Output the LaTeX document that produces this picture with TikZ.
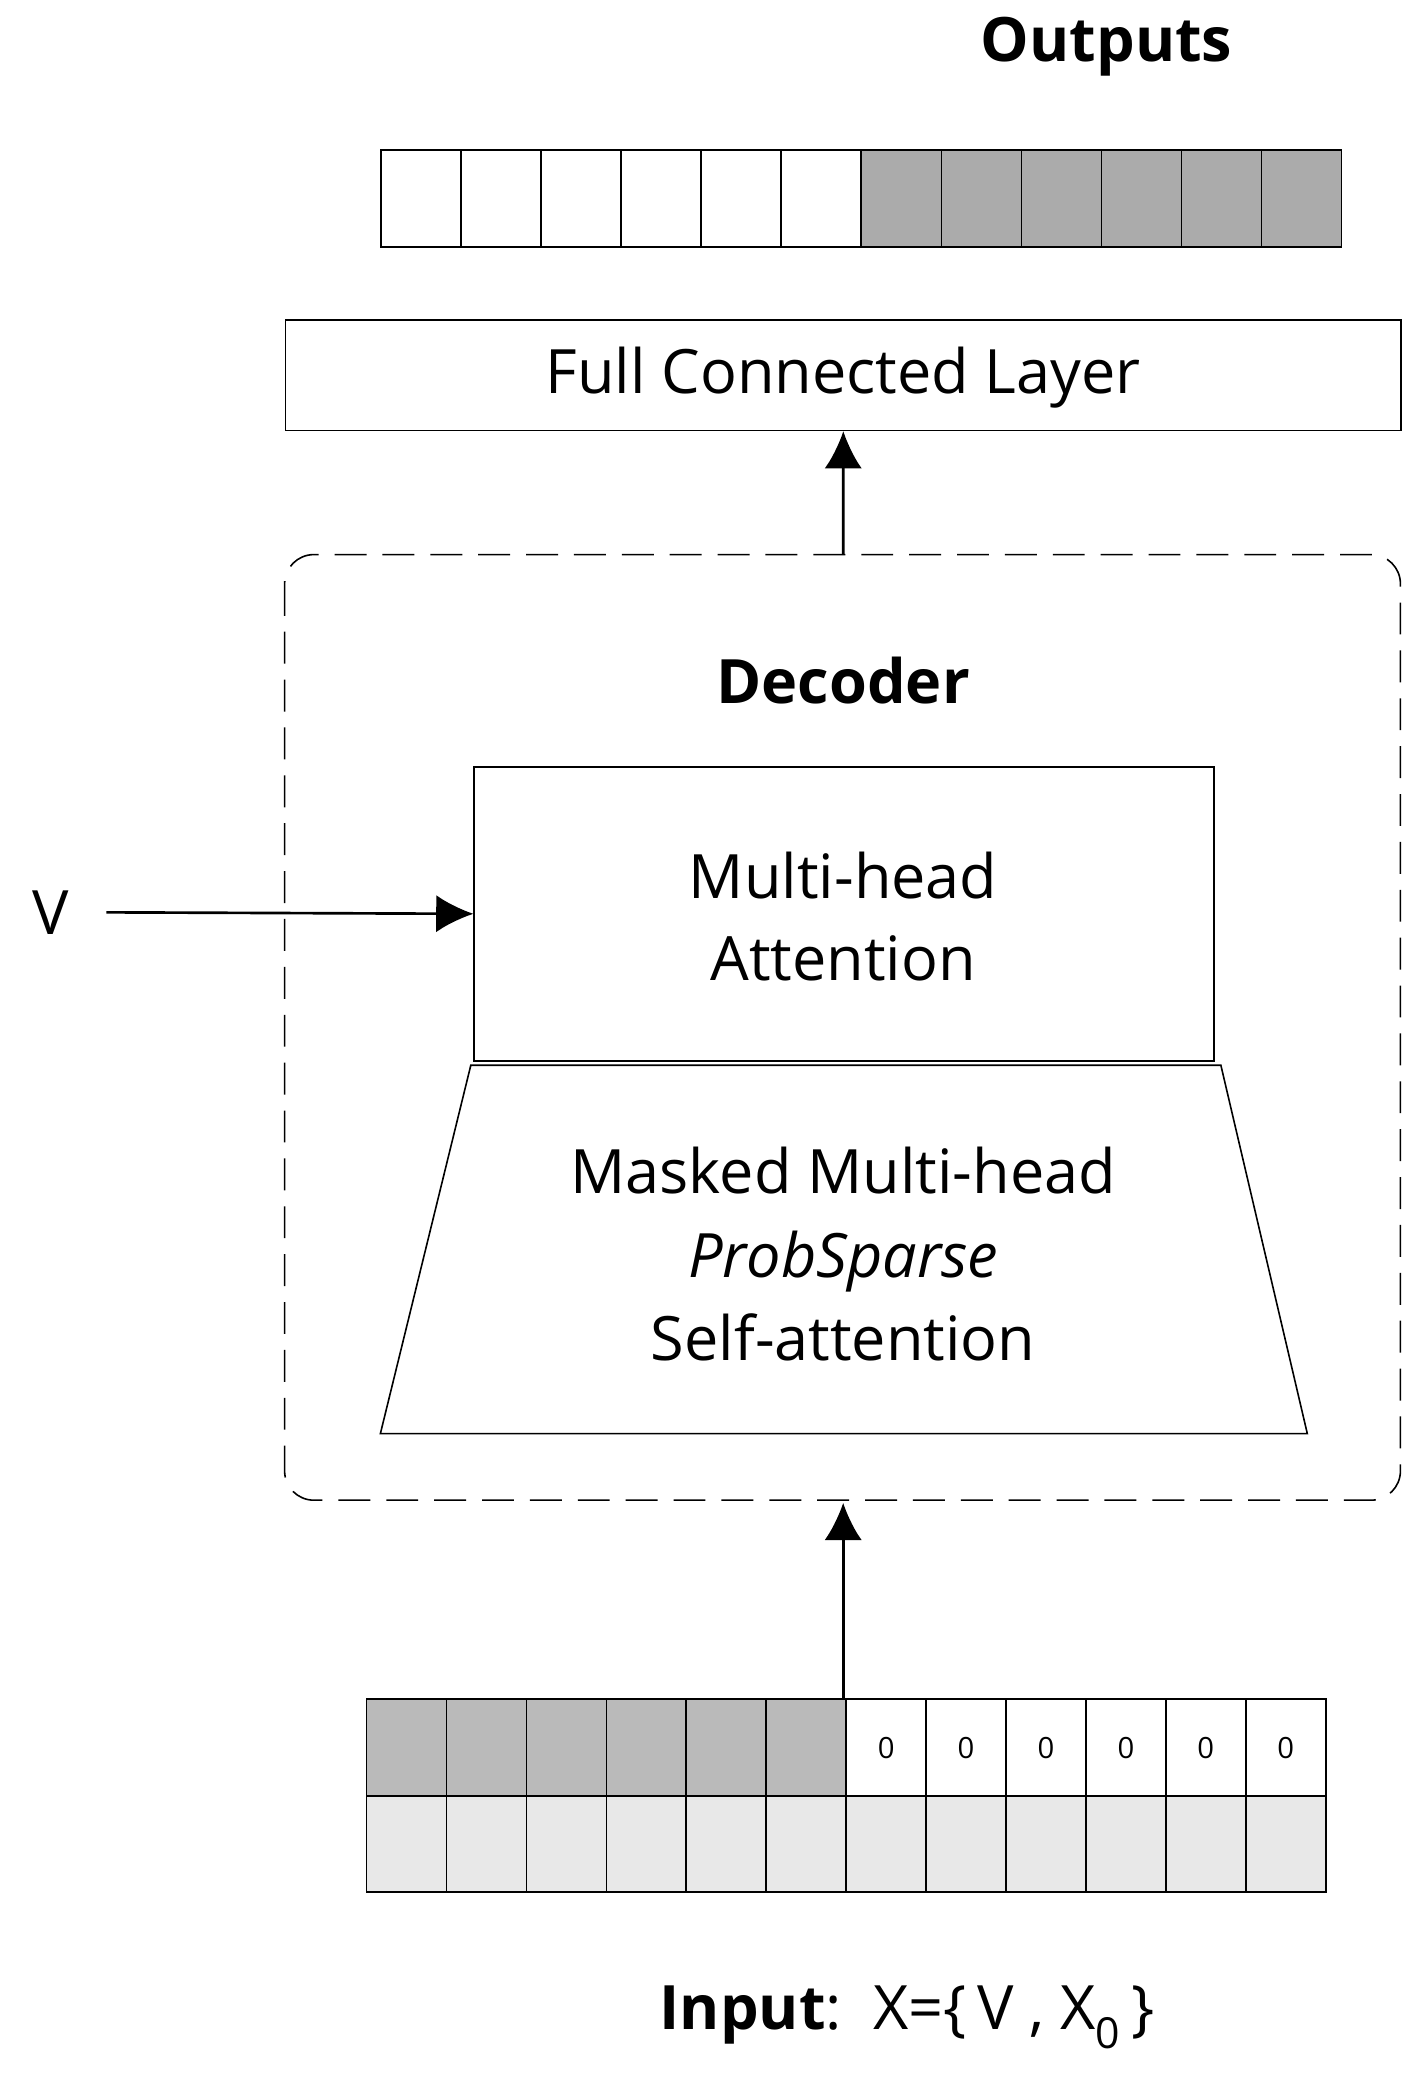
\documentclass[tikz,border=0pt]{standalone}
\usepackage{fontspec}
\setmainfont{Open Sans}
\usetikzlibrary{arrows.meta}
\begin{document}
\begin{tikzpicture}[x=1pt,y=-1pt,
  cell/.style={draw=black,line width=1.2pt,minimum width=60.2pt,minimum height=73pt,inner sep=0pt,anchor=north west},
  big/.style={font=\fontsize{46}{62}\selectfont},
  arr/.style={-{Latex[length=28pt,width=28pt]},line width=2pt}]
\useasboundingbox (0,0) rectangle (1062,1567);
\node[font=\fontsize{46}{50}\selectfont\bfseries] (out) at (832,35) {Outputs};
\foreach \i in {0,...,11}{
  \pgfmathsetmacro\xx{286+60.17*\i}
  \ifnum\i<6 \def\fc{white}\else\def\fc{black!33}\fi
  \node[cell,fill=\fc] (o\i) at (\xx,112) {};
}
\node[draw,line width=1.2pt,minimum width=839pt,minimum height=83pt,anchor=north west] (fcl) at (214,240) {};
\node[big] at (634,284) {Full Connected Layer};
\draw[dashed,dash pattern=on 24pt off 12pt,line width=1.2pt,rounded corners=22pt] (214,417) rectangle (1053,1128);
\coordinate (dtop) at (634,417);
\coordinate (dbot) at (634,1130);
\draw[arr] (dtop) -- (fcl.south);
\node[font=\fontsize{46}{50}\selectfont\bfseries] (dec) at (634,512) {Decoder};
\node[draw,line width=1.2pt,minimum width=556pt,minimum height=221pt,anchor=north west] (mha) at (356,576) {};
\node[big,align=center] at (634,689) {Multi-head\\Attention};
\draw[line width=1.2pt] (354,801) -- (918,801) -- (983,1078) -- (286,1078) -- cycle;
\node[font=\fontsize{46}{63}\selectfont,align=center] at (634,943) {Masked Multi-head\\\textit{ProbSparse}\\Self-attention};
\node[big] (v) at (38,686) {V};
\draw[arr] (80,686) -- (mha.west);
\foreach \i in {0,...,11}{
  \pgfmathsetmacro\xx{275+60.1*\i}
  \ifnum\i<6
    \node[cell,fill=black!27] (a\i) at (\xx,1277) {};
  \else
    \node[cell,fill=white,font=\fontsize{22}{26}\selectfont] (a\i) at (\xx,1277) {0};
  \fi
  \node[cell,fill=black!9,minimum height=72pt] (b\i) at (\xx,1350) {};
}
\coordinate (inp) at (634,1277);
\draw[arr] (inp) -- (dbot);
\node[big] (in) at (682,1517) {\textbf{Input}:\ \ X=\{\,V , X\textsubscript{0}\,\}};
\end{tikzpicture}
\end{document}
